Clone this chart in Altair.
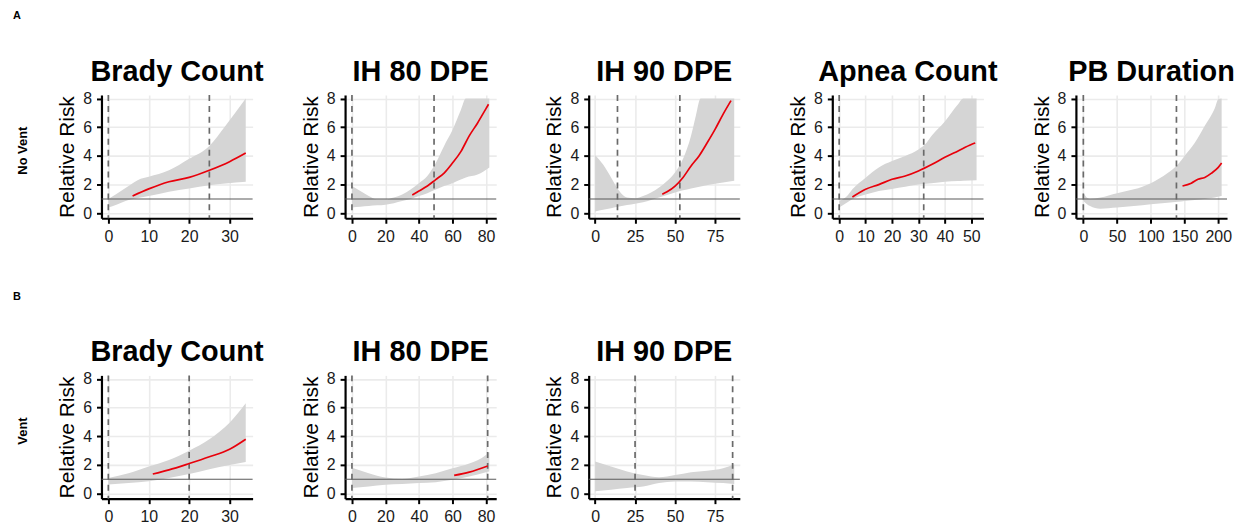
import altair as alt
import pandas as pd

FONT = "Liberation Sans"

# ---------------- data ----------------
Y_DOMAIN = [-0.35, 8.25]
Y_TICKS = [0, 2, 4, 6, 8]
REF_RR = [1]

# Row A (No Vent)
a1_title = "Brady Count"
a1_rib_x = [0, 2, 5, 8, 10, 15, 20, 25, 29, 34]
a1_rib_hi = [1.0, 1.35, 1.9, 2.4, 2.55, 3.0, 3.8, 4.7, 6.1, 8.0]
a1_rib_lo = [0.4, 0.6, 0.92, 1.1, 1.2, 1.5, 1.72, 1.95, 2.08, 2.2]
a1_line_x = [6, 10, 15, 20, 25, 30, 34]
a1_line_y = [1.2, 1.7, 2.2, 2.5, 3.0, 3.6, 4.2]
a1_dash = [0, 25]
a1_xdom = [-1.7, 35.7]
a1_xticks = [0, 10, 20, 30]

a2_title = "IH 80 DPE"
a2_rib_x = [0, 5, 10, 15, 20, 25, 30, 35, 40, 45, 50, 55, 60, 65, 68, 75, 82]
a2_rib_hi = [1.9, 1.55, 1.2, 0.97, 0.97, 1.1, 1.3, 1.65, 2.1, 2.6, 3.5, 4.7, 5.8, 7.2, 8, 8, 8]
a2_rib_lo = [0.4, 0.45, 0.5, 0.55, 0.6, 0.7, 0.85, 1.0, 1.2, 1.4, 1.65, 1.9, 2.1, 2.35, 2.5, 2.7, 3.2]
a2_line_x = [36, 40, 45, 50, 55, 60, 65, 70, 75, 80, 81.5]
a2_line_y = [1.28, 1.55, 1.9, 2.35, 2.8, 3.5, 4.3, 5.4, 6.3, 7.3, 7.6]
a2_dash = [0, 49]
a2_xdom = [-4.1, 86.1]
a2_xticks = [0, 20, 40, 60, 80]

a3_title = "IH 90 DPE"
a3_rib_x = [0, 5, 10, 15, 20, 25, 30, 35, 40, 45, 50, 55, 60, 63, 66, 75, 87]
a3_rib_hi = [4.05, 3.4, 2.5, 1.57, 1.1, 1.05, 1.2, 1.45, 1.8, 2.25, 2.85, 3.8, 5.4, 6.8, 8, 8, 8]
a3_rib_lo = [0.12, 0.24, 0.35, 0.47, 0.58, 0.67, 0.76, 0.93, 1.1, 1.28, 1.45, 1.6, 1.73, 1.8, 1.87, 2.05, 2.27]
a3_line_x = [42, 45, 50, 55, 60, 65, 70, 75, 80, 85]
a3_line_y = [1.33, 1.5, 1.9, 2.5, 3.3, 4.0, 4.9, 5.85, 6.9, 7.86]
a3_dash = [14, 53]
a3_xdom = [-4.0, 90.5]
a3_xticks = [0, 25, 50, 75]

a4_title = "Apnea Count"
a4_rib_x = [0, 3, 5, 10, 15, 20, 25, 30, 33, 35, 40, 45, 47, 52]
a4_rib_hi = [0.86, 1.2, 1.67, 2.48, 3.2, 3.64, 4.0, 4.45, 4.9, 5.4, 6.4, 7.6, 8, 8]
a4_rib_lo = [0.4, 0.75, 0.97, 1.3, 1.55, 1.7, 1.85, 2.0, 2.05, 2.1, 2.2, 2.25, 2.27, 2.3]
a4_line_x = [5, 10, 15, 20, 25, 30, 35, 40, 45, 50, 51.5]
a4_line_y = [1.13, 1.67, 2.0, 2.37, 2.6, 2.95, 3.4, 3.9, 4.35, 4.8, 4.9]
a4_dash = [0, 32]
a4_xdom = [-2.6, 54.6]
a4_xticks = [0, 10, 20, 30, 40, 50]

a5_title = "PB Duration"
a5_rib_x = [0, 5, 10, 25, 50, 75, 100, 125, 140, 150, 165, 180, 195, 200, 205]
a5_rib_hi = [1.44, 1.1, 1.0, 1.1, 1.4, 1.67, 2.1, 2.8, 3.4, 4.0, 4.9, 6.1, 7.35, 7.95, 8]
a5_rib_lo = [0.86, 0.65, 0.5, 0.32, 0.4, 0.5, 0.62, 0.74, 0.8, 0.86, 0.93, 1.0, 1.1, 1.15, 1.2]
a5_line_x = [147, 160, 170, 180, 190, 200, 205]
a5_line_y = [1.9, 2.1, 2.37, 2.5, 2.8, 3.2, 3.5]
a5_dash = [0, 138]
a5_xdom = [-11, 213]
a5_xticks = [0, 50, 100, 150, 200]

# Row B (Vent)
b1_title = "Brady Count"
b1_rib_x = [0, 5, 10, 15, 20, 25, 30, 34]
b1_rib_hi = [1.1, 1.43, 1.9, 2.35, 3.0, 3.8, 4.95, 6.3]
b1_rib_lo = [0.64, 0.75, 0.87, 1.1, 1.37, 1.7, 2.0, 2.2]
b1_line_x = [11, 15, 20, 25, 30, 34]
b1_line_y = [1.37, 1.66, 2.1, 2.57, 3.1, 3.8]
b1_dash = [0, 20]
b1_xdom = [-1.7, 35.7]
b1_xticks = [0, 10, 20, 30]

b2_title = "IH 80 DPE"
b2_rib_x = [0, 10, 20, 30, 40, 50, 60, 70, 80, 82]
b2_rib_hi = [1.8, 1.43, 1.13, 1.04, 1.2, 1.43, 1.77, 2.1, 2.7, 2.9]
b2_rib_lo = [0.4, 0.5, 0.62, 0.67, 0.74, 0.8, 0.97, 1.2, 1.5, 1.55]
b2_line_x = [61, 70, 81]
b2_line_y = [1.27, 1.5, 1.93]
b2_dash = [0, 81]
b2_xdom = [-4.1, 86.1]
b2_xticks = [0, 20, 40, 60, 80]

b3_title = "IH 90 DPE"
b3_rib_x = [0, 10, 20, 30, 40, 50, 60, 70, 80, 87]
b3_rib_hi = [2.24, 1.9, 1.55, 1.3, 1.15, 1.3, 1.5, 1.6, 1.77, 2.05]
b3_rib_lo = [0.16, 0.28, 0.4, 0.5, 0.74, 0.85, 0.85, 0.8, 0.74, 0.67]
b3_line_x = []
b3_line_y = []
b3_dash = [25, 86]
b3_xdom = [-4.0, 90.5]
b3_xticks = [0, 25, 50, 75]

row_labels = ["No Vent", "Vent"]
panel_tags = ["A", "B"]

# ---------------- chart ----------------
W, H = 152, 124
LW = 1  # width of the label column


def label_cell(tag, rowlab):
    t = alt.Chart(pd.DataFrame({"t": [tag]})).mark_text(
        font=FONT, fontSize=11, fontWeight="bold", color="black"
    ).encode(text="t:N", x=alt.value(9), y=alt.value(-79))
    r = alt.Chart(pd.DataFrame({"t": [rowlab]})).mark_text(
        font=FONT, fontSize=13, fontWeight="bold", color="black", angle=270
    ).encode(text="t:N", x=alt.value(15), y=alt.value(56))
    return alt.layer(t, r).properties(width=LW, height=H)


def panel(title, rx, lo, hi, lx, ly, dashes, xdom, xticks):
    xscale = alt.Scale(domain=xdom, nice=False, zero=False)
    yscale = alt.Scale(domain=Y_DOMAIN, nice=False, zero=False)
    xaxis = alt.Axis(values=xticks, title=None, grid=True, format="d")
    yaxis = alt.Axis(values=Y_TICKS, title="Relative Risk", grid=True, format="d")

    def X(f):
        return alt.X(f, type="quantitative", scale=xscale, axis=xaxis)

    def Y(f):
        return alt.Y(f, type="quantitative", scale=yscale, axis=yaxis)

    rib = pd.DataFrame({"x": rx, "lo": lo, "hi": hi})
    area = alt.Chart(rib).mark_area(color="#D5D5D5", interpolate="monotone").encode(
        x=X("x"), y=Y("lo"), y2="hi"
    )
    ref = alt.Chart(pd.DataFrame({"y": REF_RR})).mark_rule(
        color="#5a5a5a", strokeWidth=1.1
    ).encode(y=Y("y"))
    dash = alt.Chart(pd.DataFrame({"x": dashes})).mark_rule(
        color="#6a6a6a", strokeDash=[6, 5], strokeWidth=1.7
    ).encode(x=X("x"))
    layers = [area, ref, dash]
    if lx:
        line = alt.Chart(pd.DataFrame({"x": lx, "y": ly})).mark_line(
            color="#E8000B", strokeWidth=1.7, interpolate="monotone"
        ).encode(x=X("x"), y=Y("y"))
        layers.append(line)
    return alt.layer(*layers).properties(
        width=W,
        height=H,
        title=alt.TitleParams(
            text=title, font=FONT, fontSize=29, fontWeight="bold", color="black",
            anchor="middle", frame="group", offset=4,
        ),
    )


charts = [
    label_cell(panel_tags[0], row_labels[0]),
    panel(a1_title, a1_rib_x, a1_rib_lo, a1_rib_hi, a1_line_x, a1_line_y, a1_dash, a1_xdom, a1_xticks),
    panel(a2_title, a2_rib_x, a2_rib_lo, a2_rib_hi, a2_line_x, a2_line_y, a2_dash, a2_xdom, a2_xticks),
    panel(a3_title, a3_rib_x, a3_rib_lo, a3_rib_hi, a3_line_x, a3_line_y, a3_dash, a3_xdom, a3_xticks),
    panel(a4_title, a4_rib_x, a4_rib_lo, a4_rib_hi, a4_line_x, a4_line_y, a4_dash, a4_xdom, a4_xticks),
    panel(a5_title, a5_rib_x, a5_rib_lo, a5_rib_hi, a5_line_x, a5_line_y, a5_dash, a5_xdom, a5_xticks),
    label_cell(panel_tags[1], row_labels[1]),
    panel(b1_title, b1_rib_x, b1_rib_lo, b1_rib_hi, b1_line_x, b1_line_y, b1_dash, b1_xdom, b1_xticks),
    panel(b2_title, b2_rib_x, b2_rib_lo, b2_rib_hi, b2_line_x, b2_line_y, b2_dash, b2_xdom, b2_xticks),
    panel(b3_title, b3_rib_x, b3_rib_lo, b3_rib_hi, b3_line_x, b3_line_y, b3_dash, b3_xdom, b3_xticks),
]

chart = alt.concat(
    *charts, columns=6, spacing={"row": 158, "column": 93}, bounds="flush"
).properties(
    padding={"left": 0, "top": 1, "right": 0, "bottom": 0},
    background="white",
).configure_view(
    stroke=None
).configure_axis(
    labelFont=FONT, labelFontSize=16, labelColor="#1a1a1a", labelPadding=5,
    tickColor="black", tickWidth=2, tickSize=5,
    domainColor="black", domainWidth=2.2,
    gridColor="#EBEBEB", gridWidth=1.6,
    titleFont=FONT, titleFontSize=21, titleFontWeight="normal", titleColor="black",
    titlePadding=5,
)

chart.save("out.html", embed_options={"renderer": "svg", "actions": False})
